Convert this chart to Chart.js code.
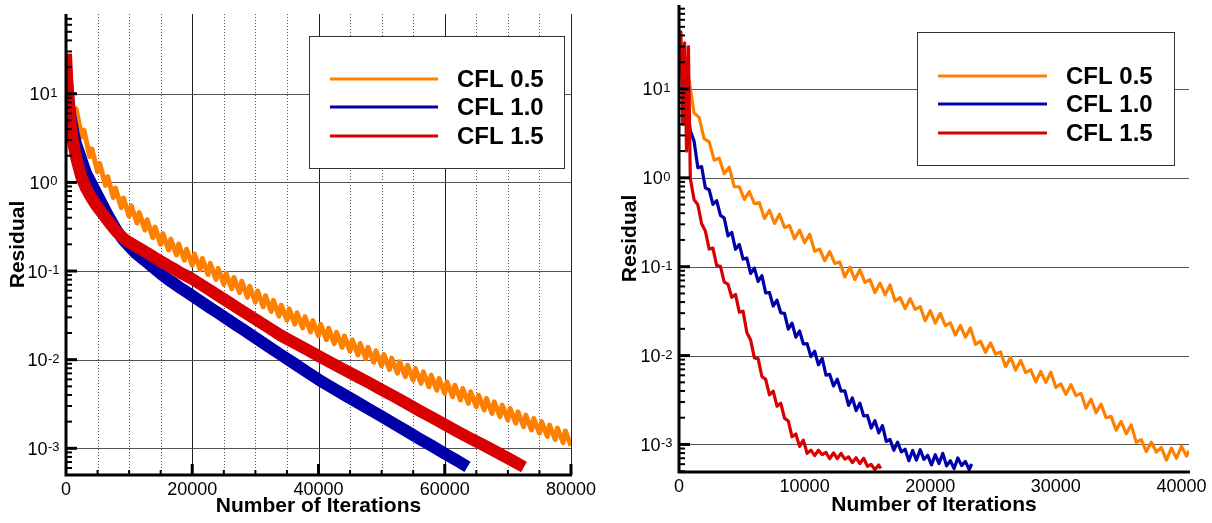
<!DOCTYPE html>
<html>
<head>
<meta charset="utf-8">
<title>Residual history</title>
<script src="https://cdn.jsdelivr.net/npm/chart.js"></script>
<style>
    html, body { margin: 0; padding: 0; background: #fff; }
    #wrap { position: relative; width: 1212px; height: 523px; }
    canvas { position: absolute; top: 0; }
    #left { left: 0; width: 600px; height: 523px; }
    #right { left: 600px; width: 612px; height: 523px; }
</style>
</head>
<body>
<div id="wrap">
    <canvas id="left" width="600" height="523"></canvas>
    <canvas id="right" width="612" height="523"></canvas>
</div>
<script>
const seriesNames = ['CFL 0.5', 'CFL 1.0', 'CFL 1.5']
const seriesColors = ['#ff8000', '#0000aa', '#d80000']

// tick labels
const yDecades = [-3, -2, -1, 0, 1]
const leftXTicks = [0, 20000, 40000, 60000, 80000]
const rightXTicks = [0, 10000, 20000, 30000, 40000]

// left plot: CFL 0.5
const leftIter05 = [350, 1250, 1600, 2500, 2850, 3750, 4100, 5000, 5350, 6250, 6600, 7500, 7850, 8750, 9100, 10000,
    10350, 11250, 11600, 12500, 12850, 13750, 14100, 15000, 15350, 16250, 16600, 17500, 17850, 18750, 19100, 20000,
    20350, 21250, 21600, 22500, 22850, 23750, 24100, 25000, 25350, 26250, 26600, 27500, 27850, 28750, 29100, 30000,
    30350, 31250, 31600, 32500, 32850, 33750, 34100, 35000, 35350, 36250, 36600, 37500, 37850, 38750, 39100, 40000,
    40350, 41250, 41600, 42500, 42850, 43750, 44100, 45000, 45350, 46250, 46600, 47500, 47850, 48750, 49100, 50000,
    50350, 51250, 51600, 52500, 52850, 53750, 54100, 55000, 55350, 56250, 56600, 57500, 57850, 58750, 59100, 60000,
    60350, 61250, 61600, 62500, 62850, 63750, 64100, 65000, 65350, 66250, 66600, 67500, 67850, 68750, 69100, 70000,
    70350, 71250, 71600, 72500, 72850, 73750, 74100, 75000, 75350, 76250, 76600, 77500, 77850, 78750, 79100, 80000]
const leftRes05 = [12.0, 5.75, 6.76, 3.27, 3.89, 1.96, 2.39, 1.32, 1.63, 0.925, 1.16, 0.676, 0.861, 0.52, 0.668, 0.416,
    0.546, 0.348, 0.456, 0.29, 0.379, 0.238, 0.313, 0.2, 0.2645, 0.1727, 0.229, 0.1517, 0.2018, 0.1327, 0.176, 0.1164,
    0.1556, 0.1038, 0.1384, 0.0916, 0.122, 0.0804, 0.1068, 0.0707, 0.0945, 0.0631, 0.0847, 0.0571, 0.0766, 0.0505, 0.0673, 0.0447,
    0.0596, 0.0395, 0.0527, 0.035, 0.0467, 0.031, 0.0413, 0.0279, 0.0374, 0.0252, 0.0338, 0.0228, 0.0305, 0.0206, 0.0276, 0.0186,
    0.025, 0.0168, 0.0226, 0.0152, 0.0204, 0.0138, 0.0185, 0.0125, 0.0167, 0.0113, 0.0152, 0.0103, 0.0138, 0.00935, 0.0126, 0.00851,
    0.01146, 0.00774, 0.01042, 0.00706, 0.00948, 0.00643, 0.00865, 0.00589, 0.00794, 0.0054, 0.00728, 0.00495, 0.00668, 0.00454, 0.00612, 0.00417,
    0.00562, 0.00382, 0.00515, 0.00351, 0.00472, 0.00322, 0.00434, 0.00295, 0.00398, 0.00271, 0.00365, 0.00248, 0.00334, 0.00228, 0.00307, 0.00209,
    0.00282, 0.00192, 0.00258, 0.00176, 0.00237, 0.00161, 0.00217, 0.00148, 0.002, 0.00136, 0.00183, 0.00126, 0.00169, 0.00116, 0.00157, 0.00107]

// left plot: CFL 1.0
const leftIter10 = [0, 300, 700, 1200, 1600, 2100, 2600, 3200, 4000, 4800, 5600, 6400, 7200, 8000,
    9000, 10000, 11000, 12000, 13000, 14000, 15000, 16000, 17000, 18000, 19000, 20000, 21000, 22000,
    23000, 24000, 25000, 26000, 27000, 28000, 29000, 30000, 32000, 34000, 36000, 38000, 40000, 42000,
    44000, 46000, 48000, 50000, 52000, 54000, 56000, 58000, 60000, 62000, 63600]
const leftRes10 = [20, 10, 5.62, 3.55, 2.69, 2.14, 1.66, 1.26, 0.977, 0.759, 0.589, 0.457, 0.363, 0.288,
    0.229, 0.191, 0.16, 0.14, 0.123, 0.107, 0.0933, 0.0822, 0.0733, 0.0653, 0.0586, 0.0525, 0.0471, 0.0423,
    0.0378, 0.034, 0.0305, 0.0273, 0.0245, 0.022, 0.0197, 0.0177, 0.0142, 0.0114, 0.0092, 0.00741, 0.00596, 0.0049,
    0.00405, 0.00335, 0.00277, 0.00229, 0.00189, 0.00156, 0.00128, 0.00106, 0.000871, 0.000724, 0.000617]

// left plot: CFL 1.5
const leftIter15 = [0, 200, 500, 800, 1200, 1600, 2400, 3200, 4000, 4800, 5600, 6400, 7200, 8000, 9000,
    10000, 11000, 12000, 13000, 14000, 15000, 16000, 17000, 18000, 19000, 20000, 21000, 22000, 23000, 24000,
    25000, 26000, 27000, 28000, 29000, 30000, 32000, 34000, 36000, 38000, 40000, 42000, 44000, 46000, 48000,
    50000, 52000, 54000, 56000, 58000, 60000, 62000, 64000, 66000, 68000, 70000, 72550]
const leftRes15 = [28.2, 14.1, 7.08, 4.17, 2.69, 1.91, 1.17, 0.851, 0.676, 0.55, 0.462, 0.389, 0.327, 0.279, 0.237,
    0.211, 0.192, 0.174, 0.158, 0.143, 0.129, 0.117, 0.107, 0.0966, 0.0887, 0.0813, 0.0733, 0.0661, 0.0594, 0.0536,
    0.0482, 0.0435, 0.0391, 0.0352, 0.0317, 0.0286, 0.0232, 0.0188, 0.0157, 0.0132, 0.011, 0.00923, 0.00776, 0.00653, 0.0055,
    0.00459, 0.00385, 0.0032, 0.00266, 0.00223, 0.00186, 0.00155, 0.0013, 0.0011, 0.000923, 0.000776, 0.000617]

// right plot: CFL 0.5
const rightIter05 = [600, 800, 1200, 1600, 2000, 2400, 2800, 3200, 3600, 4000, 4400, 4800, 5200, 5600, 6000, 6400,
    6800, 7200, 7600, 8000, 8400, 8800, 9200, 9600, 10000, 10400, 10800, 11200, 11600, 12000, 12400, 12800,
    13200, 13600, 14000, 14400, 14800, 15200, 15600, 16000, 16400, 16800, 17200, 17600, 18000, 18400, 18800, 19200,
    19600, 20000, 20400, 20800, 21200, 21600, 22000, 22400, 22800, 23200, 23600, 24000, 24400, 24800, 25200, 25600,
    26000, 26400, 26800, 27200, 27600, 28000, 28400, 28800, 29200, 29600, 30000, 30400, 30800, 31200, 31600, 32000,
    32400, 32800, 33200, 33600, 34000, 34400, 34800, 35200, 35600, 36000, 36400, 36800, 37200, 37600, 38000, 38400,
    38800, 39200, 39600, 40000, 40400, 40600]
const rightRes05 = [9.0, 12.6, 5.37, 4.79, 2.75, 2.55, 1.58, 1.66, 1.11, 1.32, 0.794, 0.794, 0.571, 0.701, 0.511, 0.526,
    0.349, 0.432, 0.307, 0.389, 0.277, 0.29, 0.206, 0.258, 0.186, 0.232, 0.149, 0.158, 0.117, 0.148, 0.109, 0.113,
    0.0767, 0.0989, 0.0716, 0.0923, 0.0668, 0.0713, 0.0512, 0.0653, 0.0484, 0.0624, 0.0411, 0.0449, 0.0339, 0.0437, 0.0331, 0.0356,
    0.0247, 0.032, 0.0232, 0.0299, 0.0217, 0.0233, 0.017, 0.0218, 0.0161, 0.0205, 0.0134, 0.0145, 0.0109, 0.0139, 0.0104, 0.011,
    0.0075, 0.00957, 0.00687, 0.00883, 0.00643, 0.00692, 0.00508, 0.00664, 0.00499, 0.00652, 0.00437, 0.00481, 0.00366, 0.00471, 0.00354, 0.00376,
    0.00255, 0.00323, 0.00228, 0.00284, 0.002, 0.00207, 0.00145, 0.00182, 0.00132, 0.00166, 0.00106, 0.00113, 0.000832, 0.00106, 0.000822, 0.000923,
    0.000668, 0.000908, 0.000698, 0.000955, 0.000741, 0.000851]

// right plot: CFL 1.0
const rightIter10 = [0, 150, 300, 450, 600, 750, 900, 1200, 1500, 1800, 2100, 2400, 2700, 3000, 3300, 3600,
    3900, 4200, 4500, 4800, 5100, 5400, 5700, 6000, 6300, 6600, 6900, 7200, 7500, 7800, 8100, 8400,
    8700, 9000, 9300, 9600, 9900, 10200, 10500, 10800, 11100, 11400, 11700, 12000, 12300, 12600, 12900, 13200,
    13500, 13800, 14100, 14400, 14700, 15000, 15300, 15600, 15900, 16200, 16500, 16800, 17100, 17400, 17700, 18000,
    18300, 18600, 18900, 19200, 19500, 19800, 20100, 20400, 20700, 21000, 21300, 21600, 21900, 22200, 22500, 22800,
    23100, 23300]
const rightRes10 = [25, 32, 12, 18, 7.08, 5.0, 3.37, 2.59, 1.3, 1.34, 0.771, 0.735, 0.502, 0.553, 0.378, 0.353,
    0.222, 0.243, 0.157, 0.178, 0.122, 0.125, 0.0839, 0.0964, 0.0682, 0.0794, 0.0507, 0.0513, 0.0361, 0.042, 0.0303, 0.0299,
    0.0199, 0.0232, 0.0161, 0.0189, 0.0135, 0.0136, 0.00973, 0.0112, 0.00787, 0.00929, 0.00601, 0.00614, 0.00456, 0.00543, 0.00398, 0.00402,
    0.00275, 0.00333, 0.00241, 0.00292, 0.00209, 0.00212, 0.00153, 0.00185, 0.00135, 0.00163, 0.00108, 0.00114, 0.000861, 0.00106, 0.000824, 0.000883,
    0.000656, 0.000855, 0.000667, 0.000873, 0.000681, 0.000755, 0.000589, 0.000767, 0.00061, 0.000794, 0.000574, 0.000655, 0.000536, 0.000706, 0.000578, 0.000646,
    0.000521, 0.000603]

// right plot: CFL 1.5
const rightIter15 = [0, 150, 300, 450, 600, 750, 900, 1200, 1500, 1800, 2100, 2400, 2700, 3000, 3300, 3600,
    3900, 4200, 4500, 4800, 5100, 5400, 5700, 6000, 6300, 6600, 6900, 7200, 7500, 7800, 8100, 8400,
    8700, 9000, 9300, 9600, 9900, 10200, 10500, 10800, 11100, 11400, 11700, 12000, 12300, 12600, 12900, 13200,
    13500, 13800, 14100, 14400, 14700, 15000, 15300, 15600, 15900, 16050]
const rightRes15 = [22, 44, 4.0, 33, 2.0, 30, 0.991, 0.568, 0.497, 0.305, 0.252, 0.158, 0.162, 0.103, 0.101, 0.067,
    0.0637, 0.0453, 0.0488, 0.0308, 0.0316, 0.0182, 0.015, 0.00942, 0.00925, 0.00581, 0.0054, 0.00361, 0.00398, 0.0027, 0.00291, 0.00198,
    0.00184, 0.00122, 0.00131, 0.000951, 0.00112, 0.000794, 0.000863, 0.00075, 0.000861, 0.000767, 0.000813, 0.000692, 0.000804, 0.000692, 0.000794, 0.000684,
    0.000724, 0.000624, 0.000708, 0.00061, 0.0007, 0.000569, 0.000596, 0.000519, 0.000589, 0.000537]


const fontFamily = '"Liberation Sans", Arial, Helvetica, sans-serif'

const toPoints = (iters, values) => iters.map((it, i) => ({ x: it, y: values[i] }))

const makeDataset = (i, iters, values, width) => ({
    label: seriesNames[i],
    data: toPoints(iters, values),
    borderColor: seriesColors[i],
    borderWidth: width,
    borderJoinStyle: 'round',
    pointRadius: 0,
    tension: 0,
    clip: 0,
    order: 3 - i
})

// grid, thick axes, inward ticks, 10^n labels and the boxed legend
const axisFrame = {
    id: 'axisFrame',
    beforeDatasetsDraw(chart, args, opts) {
        const { ctx, chartArea: a, scales: { x, y } } = chart
        ctx.save()
        ctx.lineWidth = 1
        x.ticks.forEach(t => {
            if (t.value === 0 || t.value % opts.xMinor !== 0) return
            const px = Math.round(x.getPixelForValue(t.value)) + 0.5
            const major = t.value % opts.xMajor === 0
            ctx.strokeStyle = major ? '#222' : '#555'
            ctx.setLineDash(major ? [] : [1, 2])
            ctx.beginPath()
            ctx.moveTo(px, a.top)
            ctx.lineTo(px, a.bottom)
            ctx.stroke()
        })
        ctx.setLineDash([])
        ctx.strokeStyle = '#555'
        yDecades.forEach(e => {
            const py = Math.round(y.getPixelForValue(Math.pow(10, e))) + 0.5
            ctx.beginPath()
            ctx.moveTo(a.left, py)
            ctx.lineTo(a.right, py)
            ctx.stroke()
        })
        ctx.restore()
    },
    afterDatasetsDraw(chart, args, opts) {
        const { ctx, chartArea: a, scales: { x, y } } = chart
        ctx.save()
        ctx.fillStyle = '#000'
        ctx.strokeStyle = '#000'

        // y ticks, pointing into the plot
        for (let e = yDecades[0] - 1; e <= yDecades[yDecades.length - 1] + 1; e++) {
            for (let k = 1; k <= 9; k++) {
                const v = k * Math.pow(10, e)
                if (v < y.min * 0.999 || v > y.max) continue
                const py = y.getPixelForValue(v)
                ctx.lineWidth = k === 1 ? 3 : 2
                ctx.beginPath()
                ctx.moveTo(a.left, py)
                ctx.lineTo(a.left + (k === 1 ? 11 : 6), py)
                ctx.stroke()
            }
        }

        // x ticks
        x.ticks.forEach(t => {
            if (t.value === 0 || t.value % opts.xMinor !== 0) return
            const px = x.getPixelForValue(t.value)
            const major = t.value % opts.xMajor === 0
            ctx.lineWidth = major ? 3 : 2
            ctx.beginPath()
            ctx.moveTo(px, a.bottom)
            ctx.lineTo(px, a.bottom - (major ? 11 : 5))
            ctx.stroke()
        })

        // axes
        ctx.lineWidth = 3
        ctx.beginPath()
        ctx.moveTo(a.left, a.top)
        ctx.lineTo(a.left, a.bottom)
        ctx.lineTo(a.right + 1, a.bottom)
        ctx.stroke()

        // x labels
        ctx.font = '18px ' + fontFamily
        ctx.textAlign = 'center'
        ctx.textBaseline = 'alphabetic'
        opts.xLabels.forEach(v => {
            ctx.fillText(String(v), x.getPixelForValue(v), a.bottom + 19.5)
        })

        // y labels as 10 with a raised exponent
        const baseFont = '18px ' + fontFamily
        const supFont = '13px ' + fontFamily
        ctx.textAlign = 'left'
        yDecades.forEach(e => {
            const py = y.getPixelForValue(Math.pow(10, e))
            const sup = String(e)
            ctx.font = baseFont
            const w1 = ctx.measureText('10').width
            ctx.font = supFont
            const w2 = ctx.measureText(sup).width
            const x0 = a.left - 22.5 - (w1 + w2 + 0.5) / 2
            ctx.font = baseFont
            ctx.fillText('10', x0, py + 6.5)
            ctx.font = supFont
            ctx.fillText(sup, x0 + w1 + 0.5, py + 3)
        })

        // legend box
        const lg = opts.legend
        ctx.fillStyle = '#fff'
        ctx.fillRect(lg.x, lg.y, lg.w, lg.h)
        ctx.lineWidth = 1
        ctx.strokeStyle = '#333'
        ctx.strokeRect(lg.x + 0.5, lg.y + 0.5, lg.w, lg.h)
        ctx.font = 'bold 24px ' + fontFamily
        ctx.textBaseline = 'middle'
        chart.data.datasets.forEach((ds, i) => {
            const ry = lg.rows[i]
            ctx.strokeStyle = ds.borderColor
            ctx.lineWidth = 3
            ctx.beginPath()
            ctx.moveTo(lg.lineX0, ry)
            ctx.lineTo(lg.lineX1, ry)
            ctx.stroke()
            ctx.fillStyle = '#000'
            ctx.fillText(ds.label, lg.textX, ry + 1)
        })
        ctx.restore()
    }
}

const axisTitle = (text, padding) => ({
    display: true,
    text: text,
    color: '#000',
    font: { family: fontFamily, size: 21, weight: 'bold' },
    padding: padding
})

const makeConfig = (datasets, xs) => ({
    type: 'line',
    data: { datasets: datasets },
    options: {
        responsive: false,
        animation: false,
        events: [],
        layout: { padding: xs.padding },
        scales: {
            x: {
                type: 'linear',
                min: 0,
                max: xs.max,
                ticks: { display: false, stepSize: xs.minor, autoSkip: false },
                grid: { display: false },
                border: { display: false },
                title: axisTitle('Number of Iterations', { top: 0, bottom: xs.xTitlePad }),
                afterFit: s => { s.height = xs.xHeight }
            },
            y: {
                type: 'logarithmic',
                min: xs.yMin,
                max: xs.yMax,
                ticks: { display: false },
                grid: { display: false },
                border: { display: false },
                title: axisTitle('Residual', { top: xs.yTitlePad, bottom: 0 }),
                afterFit: s => { s.width = xs.yWidth }
            }
        },
        plugins: {
            legend: { display: false },
            tooltip: { enabled: false },
            axisFrame: {
                xMajor: xs.major,
                xMinor: xs.minor,
                xLabels: xs.labels,
                legend: xs.legend
            }
        }
    },
    plugins: [axisFrame]
})

const leftChart = new Chart(document.getElementById('left'), makeConfig([
    makeDataset(0, leftIter05, leftRes05, 5),
    makeDataset(1, leftIter10, leftRes10, 12),
    makeDataset(2, leftIter15, leftRes15, 12)
], {
    max: 80000, major: 20000, minor: 5000, labels: leftXTicks,
    yMin: 5e-4, yMax: 79.4,
    padding: { left: 0, top: 14, right: 29, bottom: 0 },
    yWidth: 66, xHeight: 48, xTitlePad: 4.4, yTitlePad: 5.4,
    legend: { x: 309, y: 36, w: 255, h: 132, lineX0: 330, lineX1: 438, textX: 457, rows: [79, 107, 136] }
}))

const rightChart = new Chart(document.getElementById('right'), makeConfig([
    makeDataset(0, rightIter05, rightRes05, 3.2),
    makeDataset(1, rightIter10, rightRes10, 3.2),
    makeDataset(2, rightIter15, rightRes15, 3.2)
], {
    max: 40600, major: 10000, minor: 2000, labels: rightXTicks,
    yMin: 4.9e-4, yMax: 88,
    padding: { left: 0, top: 5, right: 23, bottom: 0 },
    yWidth: 79, xHeight: 51, xTitlePad: 5.4, yTitlePad: 17.9,
    legend: { x: 317, y: 32, w: 257, h: 133, lineX0: 338, lineX1: 447, textX: 466, rows: [76, 104, 133] }
}))
</script>
</body>
</html>
